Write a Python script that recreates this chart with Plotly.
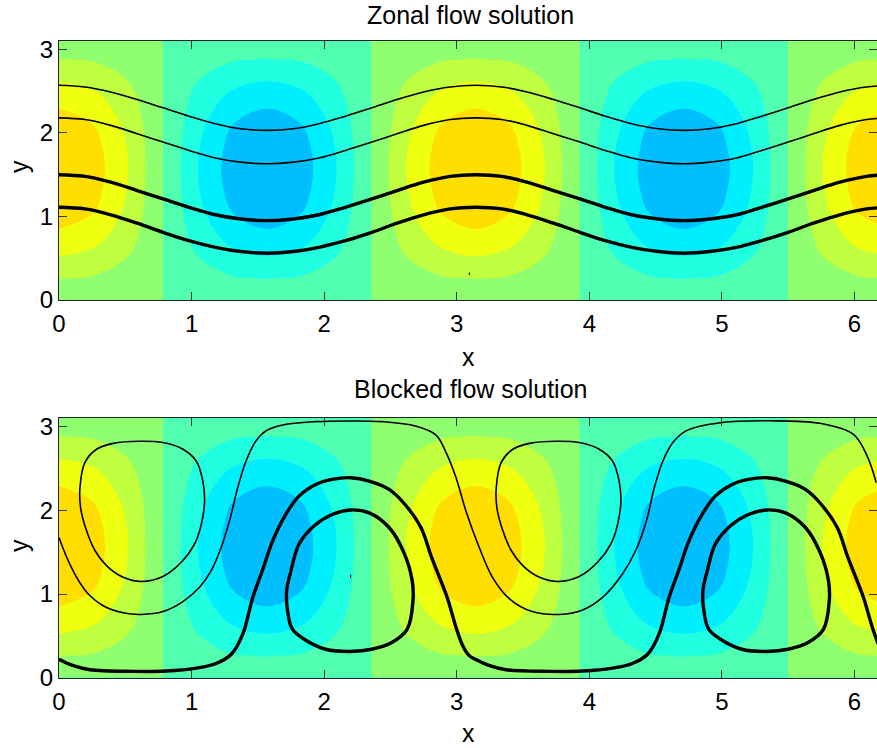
import plotly.graph_objects as go

# ---- background field ----
field_x = [0, .2618, .5236, .7854, 1.0472, 1.309, 1.5708, 1.8326, 2.0944, 2.3562, 2.618, 2.8798, 3.1416,
           3.4034, 3.6652, 3.927, 4.1888, 4.4506, 4.7124, 4.9742, 5.236, 5.4978, 5.7596, 6.0214, 6.2832]
field_y = [0, .2618, .5236, .7854, 1.0472, 1.309, 1.5708, 1.8326, 2.0944, 2.3562, 2.618, 2.8798, 3.1416]
row_a = [.02, .02, .01, 0, -.01, -.02, -.02, -.02, -.01, 0, .01, .02, .02, .02, .01, 0, -.01, -.02, -.02, -.02, -.01, 0, .01, .02, .02]
row_b = [.26, .23, .13, 0, -.13, -.23, -.26, -.23, -.13, 0, .13, .23, .26, .23, .13, 0, -.13, -.23, -.26, -.23, -.13, 0, .13, .23, .26]
row_c = [.5, .43, .25, 0, -.25, -.43, -.5, -.43, -.25, 0, .25, .43, .5, .43, .25, 0, -.25, -.43, -.5, -.43, -.25, 0, .25, .43, .5]
row_d = [.71, .61, .35, 0, -.35, -.61, -.71, -.61, -.35, 0, .35, .61, .71, .61, .35, 0, -.35, -.61, -.71, -.61, -.35, 0, .35, .61, .71]
row_e = [.87, .75, .43, 0, -.43, -.75, -.87, -.75, -.43, 0, .43, .75, .87, .75, .43, 0, -.43, -.75, -.87, -.75, -.43, 0, .43, .75, .87]
row_f = [.97, .84, .48, 0, -.48, -.84, -.97, -.84, -.48, 0, .48, .84, .97, .84, .48, 0, -.48, -.84, -.97, -.84, -.48, 0, .48, .84, .97]
row_g = [1, .87, .5, 0, -.5, -.87, -1, -.87, -.5, 0, .5, .87, 1, .87, .5, 0, -.5, -.87, -1, -.87, -.5, 0, .5, .87, 1]
field_z = [row_a, row_b, row_c, row_d, row_e, row_f, row_g, row_f, row_e, row_d, row_c, row_b, row_a]

band_colors = ["#00bfff", "#00efff", "#20ffdf", "#50ffaf", "#8fff70", "#bfff40", "#efff10", "#ffdf00"]

# ---- zonal flow streamlines ----
zonal_x = [0, .196, .39, .59, .785, .98, 1.18, 1.37, 1.57, 1.77, 1.96, 2.16, 2.36, 2.55, 2.75, 2.95,
           3.14, 3.34, 3.53, 3.73, 3.93, 4.12, 4.32, 4.52, 4.71, 4.91, 5.11, 5.30, 5.5, 5.69, 5.89, 6.09, 6.28]
zonal_thin_1 = [2.57, 2.55, 2.49, 2.40, 2.30, 2.20, 2.11, 2.05, 2.03, 2.05, 2.11, 2.20, 2.30, 2.40, 2.49, 2.55,
                2.57, 2.55, 2.49, 2.40, 2.30, 2.20, 2.11, 2.05, 2.03, 2.05, 2.11, 2.20, 2.30, 2.40, 2.49, 2.55, 2.57]
zonal_thin_2 = [2.18, 2.16, 2.09, 1.99, 1.89, 1.79, 1.70, 1.65, 1.63, 1.65, 1.70, 1.79, 1.89, 1.99, 2.09, 2.16,
                2.18, 2.16, 2.09, 1.99, 1.89, 1.79, 1.70, 1.65, 1.63, 1.65, 1.70, 1.79, 1.89, 1.99, 2.09, 2.16, 2.18]
zonal_thick_1 = [1.5, 1.48, 1.41, 1.31, 1.21, 1.11, 1.02, .97, .95, .97, 1.02, 1.11, 1.21, 1.31, 1.41, 1.48,
                 1.5, 1.48, 1.41, 1.31, 1.21, 1.11, 1.02, .97, .95, .97, 1.02, 1.11, 1.21, 1.31, 1.41, 1.48, 1.5]
zonal_thick_2 = [1.11, 1.09, 1.02, .92, .81, .71, .63, .58, .56, .58, .63, .71, .81, .92, 1.02, 1.09,
                 1.11, 1.09, 1.02, .92, .81, .71, .63, .58, .56, .58, .63, .71, .81, .92, 1.02, 1.09, 1.11]

# ---- blocked flow streamlines ----
wave_thin_x = [0, .058, .133, .221, .333, .484, .622, .784, .935, 1.06, 1.148, 1.223, 1.286, 1.348, 1.411, 1.486, 1.561, 1.687,
               1.937, 2.188, 2.439, 2.689, 2.844, 2.92, 2.995, 3.07, 3.17, 3.27, 3.40, 3.57, 3.775, 3.95, 4.10, 4.25, 4.35, 4.43,
               4.49, 4.555, 4.63, 4.73, 5.0, 5.36, 5.74, 5.99, 6.09, 6.165]
wave_thin_y = [1.675, 1.44, 1.20, 1.0, .86, .776, .756, .79, .91, 1.08, 1.28, 1.556, 1.874, 2.27, 2.59, 2.83, 2.95, 3.02,
               3.06, 3.068, 3.06, 3.008, 2.90, 2.69, 2.39, 1.99, 1.556, 1.20, .94, .79, .756, .81, .96, 1.24, 1.52, 1.87,
               2.27, 2.59, 2.81, 2.95, 3.05, 3.07, 3.04, 2.91, 2.67, 2.33]
wave_thick_x = [0, .108, .233, .56, .81, 1.035, 1.185, 1.30, 1.386, 1.46, 1.536, 1.61, 1.71, 1.81, 1.937, 2.06, 2.2, 2.34, 2.49,
                2.61, 2.73, 2.81, 2.87, 2.93, 2.995, 3.04, 3.09, 3.14, 3.248, 3.373, 3.70, 3.95, 4.175, 4.325, 4.44, 4.526, 4.60, 4.676,
                4.75, 4.85, 4.95, 5.077, 5.20, 5.34, 5.48, 5.63, 5.75, 5.87, 5.95, 6.01, 6.07, 6.135, 6.18]
wave_thick_y = [.22, .143, .095, .076, .08, .115, .17, .28, .52, .95, 1.29, 1.63, 1.95, 2.17, 2.31, 2.37, 2.39, 2.35, 2.25,
                2.07, 1.795, 1.44, 1.2, .95, .60, .40, .27, .22, .143, .095, .076, .08, .115, .17, .28, .52, .95, 1.29,
                1.63, 1.95, 2.17, 2.31, 2.37, 2.39, 2.35, 2.25, 2.07, 1.795, 1.44, 1.2, .95, .60, .40]
loop_thin_a_x = [.158, .195, .283, .409, .609, .784, .935, 1.035, 1.085, 1.098, 1.073, 1.023, .922, .784, .622, .484, .358, .271, .208, .163, .158]
loop_thin_b_x = [3.298, 3.335, 3.423, 3.549, 3.749, 3.924, 4.075, 4.175, 4.225, 4.238, 4.213, 4.163, 4.062, 3.924, 3.762, 3.624, 3.498, 3.411, 3.348, 3.303, 3.298]
loop_thin_y = [2.27, 2.57, 2.73, 2.80, 2.825, 2.81, 2.73, 2.59, 2.35, 2.11, 1.83, 1.60, 1.38, 1.21, 1.15, 1.20, 1.34, 1.52, 1.755, 2.03, 2.27]
loop_thick_a_x = [2.2, 2.34, 2.49, 2.60, 2.664, 2.67, 2.627, 2.51, 2.36, 2.2, 2.01, 1.85, 1.76, 1.724, 1.717, 1.75, 1.81, 1.925, 2.06, 2.2]
loop_thick_b_x = [5.34, 5.48, 5.63, 5.74, 5.804, 5.81, 5.767, 5.65, 5.50, 5.34, 5.15, 4.99, 4.90, 4.864, 4.857, 4.89, 4.95, 5.065, 5.20, 5.34]
loop_thick_y = [2.005, 1.97, 1.795, 1.50, 1.16, .92, .58, .42, .34, .314, .34, .46, .58, .80, 1.04, 1.28, 1.595, 1.815, 1.95, 2.005]

# two tiny stray contour specks visible in the reference
speck_top_x, speck_top_y = [3.095, 3.095], [.30, .33]
speck_bottom_x, speck_bottom_y = [2.2, 2.2], [1.19, 1.23]

x_ticks = [0, 1, 2, 3, 4, 5, 6]
y_ticks = [0, 1, 2, 3]
titles = ["Zonal flow solution", "Blocked flow solution"]
axis_labels = ["x", "y"]

FONT = "Liberation Sans, Arial, Helvetica, sans-serif"
THIN, THICK = 1.6, 3.4

colorscale = []
for i, c in enumerate(band_colors):
    colorscale += [[i / 8, c], [(i + 1) / 8, c]]


def field(xa, ya):
    return go.Contour(x=field_x, y=field_y, z=field_z, xaxis=xa, yaxis=ya, zmin=-1, zmax=1,
                      autocontour=False, colorscale=colorscale, showscale=False, hoverinfo="skip",
                      contours=dict(start=-.75, end=.75, size=.25, coloring="fill", showlines=False),
                      line=dict(width=0))


def curve(x, y, w, xa, ya, shape="spline"):
    line = dict(color="black", width=w, shape=shape)
    if shape == "spline":
        line["smoothing"] = 1.0
    return go.Scatter(x=x, y=y, mode="lines", xaxis=xa, yaxis=ya, showlegend=False, hoverinfo="skip", line=line)


fig = go.Figure()
fig.add_trace(field("x", "y"))
fig.add_trace(field("x2", "y2"))
for yy, w in [(zonal_thin_1, THIN), (zonal_thin_2, THIN), (zonal_thick_1, THICK), (zonal_thick_2, THICK)]:
    fig.add_trace(curve(zonal_x, yy, w, "x", "y"))
for xx, yy, w in [(wave_thin_x, wave_thin_y, THIN), (wave_thick_x, wave_thick_y, THICK),
                  (loop_thin_a_x, loop_thin_y, THIN), (loop_thin_b_x, loop_thin_y, THIN),
                  (loop_thick_a_x, loop_thick_y, THICK), (loop_thick_b_x, loop_thick_y, THICK)]:
    fig.add_trace(curve(xx, yy, w, "x2", "y2"))
fig.add_trace(curve(speck_top_x, speck_top_y, 1, "x", "y", "linear"))
fig.add_trace(curve(speck_bottom_x, speck_bottom_y, 1, "x2", "y2", "linear"))

W, H = 877, 748
LEFT = 59
top1, bot1, top2, bot2 = 41, 300, 418.3, 677.7


def xaxis(anchor):
    return dict(domain=[LEFT / W, 1], range=[0, 6.17], anchor=anchor, tickvals=x_ticks, ticks="inside", ticklen=8,
                tickcolor="#333", tickwidth=1, showline=True, linecolor="#222", linewidth=1, mirror="ticks",
                showgrid=False, zeroline=False, tickfont=dict(family=FONT, size=24, color="black"), automargin=False,
                ticklabelstandoff=2)


def yaxis(anchor, top, bot):
    return dict(domain=[1 - bot / H, 1 - top / H], range=[0, 3.1], anchor=anchor, tickvals=y_ticks, ticks="inside", ticklen=8,
                tickcolor="#333", tickwidth=1, showline=True, linecolor="#222", linewidth=1, mirror="ticks",
                showgrid=False, zeroline=False, tickfont=dict(family=FONT, size=24, color="black"), automargin=False)


def text(s, px, py, angle=0):
    return dict(text=s, x=px / W, y=1 - py / H, xref="paper", yref="paper", showarrow=False, textangle=angle,
                xanchor="center", yanchor="middle", font=dict(family=FONT, size=25, color="black"))


fig.update_layout(
    width=W, height=H, margin=dict(l=0, r=0, t=0, b=0, pad=0, autoexpand=False), paper_bgcolor="white", plot_bgcolor="white",
    showlegend=False, font=dict(family=FONT, color="black"),
    xaxis=xaxis("y"), yaxis=yaxis("x", top1, bot1),
    xaxis2=xaxis("y2"), yaxis2=yaxis("x2", top2, bot2),
    annotations=[
        text(titles[0], 470, 14.6), text(titles[1], 470, 389),
        text(axis_labels[0], 468, 357), text(axis_labels[0], 468, 733),
        text(axis_labels[1], 19, 167, -90), text(axis_labels[1], 19, 546, -90),
    ],
)
fig.write_html("out.html", config={"displayModeBar": False},
               post_script="document.body.style.margin='0';document.documentElement.style.overflow='hidden';")
